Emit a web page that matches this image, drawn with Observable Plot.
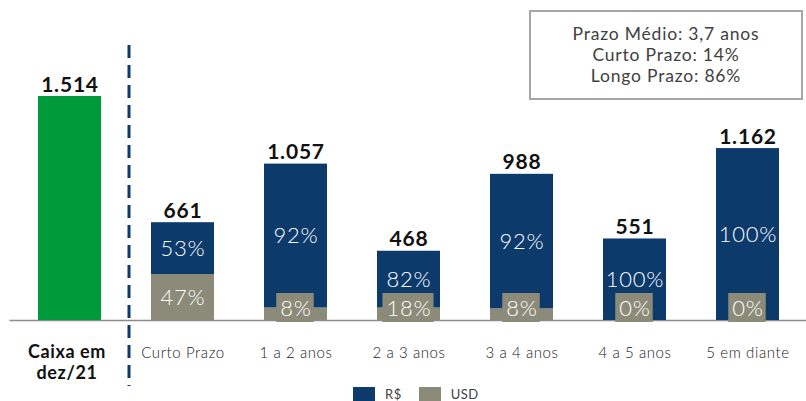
<!DOCTYPE html>
<html><head><meta charset="utf-8">
<script src="https://cdn.jsdelivr.net/npm/d3@7"></script>
<script src="https://cdn.jsdelivr.net/npm/@observablehq/plot@0.6"></script>
<style>
body{margin:0;width:806px;height:401px;overflow:hidden;background:#fff;font-family:Lato,"Open Sans",sans-serif;position:relative}
#chart{position:absolute;left:0;top:0}
#note{position:absolute;left:529px;top:10px;width:274px;height:90px;border:2px solid #a6a6a6;box-sizing:border-box;text-align:center;font-size:17.5px;font-weight:400;color:#404040;line-height:21px;padding-top:11px;letter-spacing:0.8px}
#legend{position:absolute;left:353px;top:386px;display:flex;align-items:center;font-size:13px;color:#404040;letter-spacing:0.5px}
#legend .sw{display:inline-block;width:22px;height:15px;margin-right:10px}
#legend .it{display:flex;align-items:center;margin-right:17px}
g.pct-lbl text{letter-spacing:0.8px}
g.cat-lbl text{letter-spacing:0.6px}
g.cash-lbl text{letter-spacing:0.6px}
g.tot-lbl text{letter-spacing:0.8px}
</style></head>
<body>
<div id="chart"></div>
<div id="note"></div>
<div id="legend"></div>
<script>
const categories = ["Caixa em\ndez/21","Curto Prazo","1 a 2 anos","2 a 3 anos","3 a 4 anos","4 a 5 anos","5 em diante"];
const totals = [1514, 661, 1057, 468, 988, 551, 1162];
const totalLabels = ["1.514","661","1.057","468","988","551","1.162"];
const brlPct = [null, 53, 92, 82, 92, 100, 100];
const usdPct = [null, 47, 8, 18, 8, 0, 0];
const series = ["R$","USD"];
const seriesColors = ["#0b3a6b","#8c8a78"];
const cashColor = "#009a3a";
const noteLines = ["Prazo Médio: 3,7 anos","Curto Prazo: 14%","Longo Prazo: 86%"];

const cashRows = [{cat: categories[0], value: totals[0]}];
const debtRows = [];
const brlLabels = [], usdLabels = [];
for (let i = 1; i < categories.length; i++) {
  const usd = totals[i] * usdPct[i] / 100;
  const brl = totals[i] * brlPct[i] / 100;
  debtRows.push({cat: categories[i], series: "USD", value: usd});
  debtRows.push({cat: categories[i], series: "R$", value: brl});
  brlLabels.push({cat: categories[i], y: usd + brl / 2, text: brlPct[i] + "%"});
  usdLabels.push({cat: categories[i], y: Math.max(usd / 2, 78), text: usdPct[i] + "%"});
}
const totalRows = categories.map((c, i) => ({cat: c, value: totals[i], label: totalLabels[i]}));

const chart = Plot.plot({
  width: 806, height: 395,
  marginLeft: 35.5, marginRight: 25.5, marginTop: 96, marginBottom: 75,
  x: {domain: categories, paddingInner: 0.446, paddingOuter: 0, axis: null},
  y: {domain: [0, 1514], axis: null},
  color: {domain: series, range: seriesColors},
  style: {fontFamily: "Lato, 'Open Sans', sans-serif", overflow: "visible"},
  marks: [
    Plot.ruleY([0], {stroke: "#8c8c8c", strokeWidth: 1.5, insetLeft: -26, insetRight: -26}),
    Plot.barY(cashRows, {x: "cat", y: "value", fill: cashColor}),
    Plot.barY(debtRows, {x: "cat", y: "value", fill: "series"}),
    Plot.ruleX([categories[1]], {dx: -54, stroke: "#0b3a6b", strokeWidth: 3, strokeDasharray: "13,7", insetTop: -51, insetBottom: -66}),
    Plot.text(totalRows, {x: "cat", y: "value", text: "label", lineAnchor: "bottom", dy: -5, fontSize: 21, fontWeight: "bold", fill: "#111", className: "tot-lbl"}),
    Plot.text(brlLabels, {x: "cat", y: "y", text: "text", fill: "#fff", fontSize: 22, fontWeight: 300, className: "pct-lbl"}),
    Plot.text(usdLabels, {x: "cat", y: "y", text: "text", fill: "#fff", fontSize: 22, fontWeight: 300, className: "pct-lbl usd-lbl"}),
    Plot.text([categories[0]], {x: d => d, y: () => 0, text: d => d, lineAnchor: "top", dy: 22, dx: -3, lineHeight: 1.2, fontSize: 18, fontWeight: "bold", fill: "#111", className: "cash-lbl"}),
    Plot.text(categories.slice(1), {x: d => d, y: () => 0, text: d => d, lineAnchor: "bottom", dy: 37, fontSize: 15, fontWeight: 300, fill: "#222", className: "cat-lbl"})
  ]
});
document.getElementById("chart").append(chart);

// gray background boxes behind USD percentage labels
chart.querySelectorAll("g.usd-lbl text").forEach(t => {
  const b = t.getBBox();
  const r = document.createElementNS("http://www.w3.org/2000/svg", "rect");
  r.setAttribute("x", b.x - 4);
  r.setAttribute("y", b.y - 1);
  r.setAttribute("width", b.width + 6);
  r.setAttribute("height", b.height + 2);
  r.setAttribute("fill", seriesColors[1]);
  if (t.getAttribute("transform")) r.setAttribute("transform", t.getAttribute("transform"));
  t.parentNode.insertBefore(r, t);
});

document.getElementById("note").innerHTML = noteLines.map(s => `<div>${s}</div>`).join("");
document.getElementById("legend").innerHTML = series.map((s, i) =>
  `<span class="it"><span class="sw" style="background:${seriesColors[i]}"></span>${s}</span>`).join("");
</script>
</body></html>
